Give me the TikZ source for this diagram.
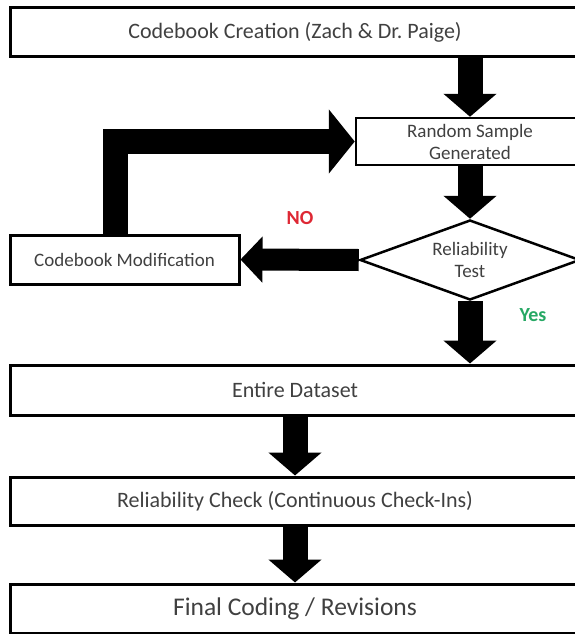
\documentclass[tikz,border=0pt]{standalone}
\usepackage{fontspec}
\setmainfont{Carlito}
\usetikzlibrary{shapes.geometric,arrows.meta}

\definecolor{nored}{RGB}{222,40,52}
\definecolor{yesgreen}{RGB}{38,168,100}

\begin{document}
\begin{tikzpicture}[x=1pt,y=-1pt,
  box/.style={draw,line width=3pt,inner sep=0pt,text=black!75,font=\fontsize{22}{26}\selectfont},
  small/.style={font=\fontsize{19}{22}\selectfont},
  fat/.style={line width=25pt,-{Triangle[length=23pt,width=52pt]}}]

\useasboundingbox (0,0) rectangle (574,634);

\node [box,minimum width=570pt,minimum height=49pt] (Cb) at (295,32.5)
  {Codebook Creation (Zach \& Dr.\ Paige)};
\node [box,small,line width=2.5pt,minimum width=228pt,minimum height=47pt,align=center] (RS) at (470,141.5)
  {Random Sample\\Generated};
\node [diamond,aspect=2.75,draw,small,line width=2.5pt,inner sep=0pt,minimum width=220pt,minimum height=80pt,
  align=center,text=black!75] (RT) at (470,260)
  {Reliability\\Test};
\node [box,small,minimum width=229pt,minimum height=49pt] (CM) at (124.5,259.5)
  {Codebook Modification};
\node [box,minimum width=570pt,minimum height=50pt] (ED) at (295,390)
  {Entire Dataset};
\node [box,minimum width=570pt,minimum height=48pt] (RC) at (295,501)
  {Reliability Check (Continuous Check-Ins)};
\node [box,font=\fontsize{25.5}{28}\selectfont,minimum width=570pt,minimum height=49pt] (FC) at (295,608.5)
  {Final Coding / Revisions};

\node [text=nored,font=\bfseries\fontsize{20}{22}\selectfont] (No) at (300,218) {NO};
\node [text=yesgreen,font=\bfseries\fontsize{20}{22}\selectfont] (Yes) at (533,315) {Yes};

\draw [fat] (Cb.south -| RS.north) -- (RS.north);
\draw [fat] (RS.south) -- (RT.north);
\draw [fat] (RT.south) -- (RT.south |- ED.north);
\draw [fat] (ED.south) -- (RC.north);
\draw [fat] (RC.south) -- (FC.north);

\draw [line width=22pt,-{Triangle[length=22pt,width=45pt]}] (RT.west) -- (CM.east);

% back to a new sample
\draw [line width=25pt,-{Triangle[length=26pt,width=63pt]}]
([xshift=-9pt]CM.north) |- (RS.west);

\end{tikzpicture}
\end{document}
